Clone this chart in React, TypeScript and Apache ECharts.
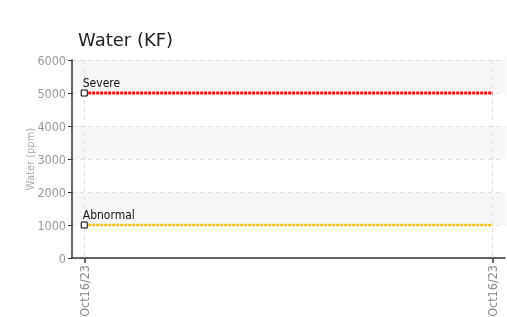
import React, { useEffect, useRef } from "react";
import * as echarts from "echarts";

const dateLabels = ["Oct16/23", "Oct16/23"];
const xPositions = [0, 1];
const severeValues = [5000, 5000];
const abnormalValues = [1000, 1000];
const waterValues = [915, 915];
const yTicks = [0, 1000, 2000, 3000, 4000, 5000, 6000];

const NARROW = '"Liberation Sans Narrow", "DejaVu Sans Condensed", "Roboto", sans-serif';

function thresholdData(values: number[], name: string) {
  return values.map((v, i) =>
    i === 0
      ? {
          value: [xPositions[i], v],
          symbol: "rect",
          symbolSize: 6,
          itemStyle: { color: "#fff", borderColor: "#000", borderWidth: 1 },
          label: {
            show: true,
            formatter: name,
            position: [2, -13],
            align: "left",
            color: "#111",
            fontFamily: NARROW,
            fontSize: 12,
          },
        }
      : { value: [xPositions[i], v], symbol: "none" }
  );
}

export default function App() {
  const ref = useRef<HTMLDivElement>(null);
  useEffect(() => {
    const chart = echarts.init(ref.current!, null, { renderer: "svg" });
    chart.setOption({
      animation: false,
      title: {
        text: "Water (KF)",
        left: 73,
        top: 25,
        textStyle: { fontFamily: "DejaVu Sans", fontWeight: "normal", fontSize: 18, color: "#222" },
      },
      grid: { left: 72, right: 2, top: 60, bottom: 59, containLabel: false, outerBoundsMode: "none" },
      xAxis: {
        type: "value",
        min: -0.03,
        max: 1.03,
        axisLine: { show: true, onZero: false, lineStyle: { color: "#333", width: 1.5 } },
        axisTick: { show: true, customValues: xPositions, length: 5, lineStyle: { color: "#333", width: 1.5 } },
        axisLabel: {
          customValues: xPositions,
          rotate: 90,
          color: "#888",
          fontFamily: NARROW,
          fontSize: 12.5,
          margin: 7,
          formatter: (v: number) => dateLabels[Math.round(v)] ?? "",
        },
        splitLine: { show: true, lineStyle: { color: "#ddd", type: [4, 4] } },
      },
      yAxis: {
        type: "value",
        min: 0,
        max: 6000,
        interval: 1000,
        name: "Water (ppm)",
        nameLocation: "middle",
        nameGap: 36,
        nameMoveOverlap: false,
        nameTextStyle: { color: "#aaa", fontFamily: NARROW, fontSize: 11 },
        axisLine: { show: true, onZero: false, lineStyle: { color: "#333", width: 1.5 } },
        axisTick: { show: true, length: 4, lineStyle: { color: "#333" } },
        axisLabel: {
          color: "#999",
          fontFamily: NARROW,
          fontSize: 12.5,
          margin: 6,
          formatter: (v: number) => (yTicks.includes(v) ? String(v) : ""),
        },
        splitLine: { show: true, lineStyle: { color: "#ddd", type: [4, 4] } },
        splitArea: { show: true, areaStyle: { color: ["#fff", "#f7f7f7"] } },
      },
      series: [
        {
          name: "Water",
          type: "line",
          data: xPositions.map((x, i) => [x, waterValues[i]]),
          showSymbol: false,
          lineStyle: { color: "#333", width: 3, shadowColor: "rgba(0,0,0,0.3)", shadowOffsetY: 1.5, shadowBlur: 1 },
          z: 2,
        },
        {
          name: "Severe",
          type: "line",
          data: thresholdData(severeValues, "Severe"),
          lineStyle: { color: "#ff0000", width: 3, type: [3, 1] },
          z: 3,
        },
        {
          name: "Abnormal",
          type: "line",
          data: thresholdData(abnormalValues, "Abnormal"),
          lineStyle: { color: "#f2c200", width: 2.5, type: [3, 1] },
          z: 3,
        },
      ],
    });
    return () => chart.dispose();
  }, []);
  return <div ref={ref} style={{ position: "fixed", left: 0, top: 0, width: 507, height: 317 }} />;
}
